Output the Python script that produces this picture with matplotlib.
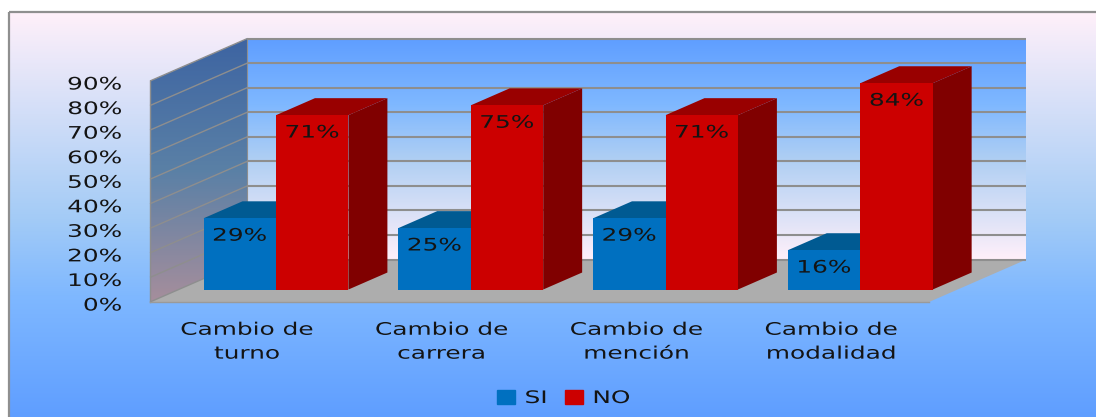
import matplotlib
matplotlib.use("Agg")
import matplotlib.pyplot as plt
import numpy as np
from matplotlib.colors import LinearSegmentedColormap
from matplotlib.patches import Patch, Polygon, Rectangle
from matplotlib.patheffects import AbstractPathEffect
from matplotlib.transforms import Affine2D

categories = ["Cambio de\nturno", "Cambio de\ncarrera", "Cambio de\nmención", "Cambio de\nmodalidad"]
si_values = [29, 25, 29, 16]
no_values = [71, 75, 71, 84]
y_ticks = [0, 10, 20, 30, 40, 50, 60, 70, 80, 90]
series_names = ["SI", "NO"]

# colores
BLUE_FRONT, BLUE_TOP, BLUE_SIDE = "#0070C0", "#005A92", "#004E80"
RED_FRONT, RED_TOP, RED_SIDE = "#CC0000", "#990000", "#800000"
FLOOR = "#ADADAD"
GRID = "#8E8E8E"
TEXT = "#141414"

# proyeccion 3D: cuanto se corre el fondo, en unidades de los ejes
DEPTH_X = 0.5
DEPTH_Y = 17.3
BAR_D0, BAR_D1 = 0.294, 0.694
BAR_W = 0.372
FONT = 12.4
STRETCH = 1.44


class HStretch(AbstractPathEffect):
    """Ensancha el texto en x (el original esta estirado)."""

    def __init__(self, cx=None, s=STRETCH, dy=0):
        super().__init__()
        self.cx = cx
        self.s = s
        self.dy = dy

    def draw_path(self, renderer, gc, tpath, affine, rgbFace=None):
        cx = self.cx if self.cx is not None else affine.get_matrix()[0, 2]
        extra = Affine2D().translate(-cx, 0).scale(self.s, 1).translate(cx, self.dy)
        renderer.draw_path(gc, tpath, affine + extra, rgbFace)


def proj(x, y, d):
    return x + d * DEPTH_X, y + d * DEPTH_Y


def gradient(ax, stops, extent, clip=None):
    cmap = LinearSegmentedColormap.from_list("g", stops)
    im = ax.imshow(np.linspace(0, 1, 256).reshape(-1, 1), cmap=cmap, aspect="auto",
                   extent=extent, origin="upper", interpolation="bilinear", zorder=1)
    if clip is not None:
        im.set_clip_box(ax.figure.bbox)
        im.set_clip_path(clip)
    return im


def draw_box(ax, x0, x1, v, front, top, side):
    d0, d1 = BAR_D0, BAR_D1
    ax.fill(*zip(proj(x1, 0, d0), proj(x1, 0, d1), proj(x1, v, d1), proj(x1, v, d0)),
            color=side, lw=0, clip_on=False, zorder=4)
    ax.fill(*zip(proj(x0, v, d0), proj(x0, v, d1), proj(x1, v, d1), proj(x1, v, d0)),
            color=top, lw=0, clip_on=False, zorder=4)
    ax.fill(*zip(proj(x0, 0, d0), proj(x1, 0, d0), proj(x1, v, d0), proj(x0, v, d0)),
            color=front, lw=0, clip_on=False, zorder=4)


W, H = 1096, 417
fig = plt.figure(figsize=(W / 100, H / 100), dpi=100, facecolor="white")

# fondo del grafico
bg = fig.add_axes([0, 0, 1, 1], zorder=0)
bg.set_xlim(0, W)
bg.set_ylim(H, 0)
bg.axis("off")
gradient(bg, [(0, "#FFF0FA"), (0.5, "#A5CCF6"), (0.7, "#7FB8FF"), (1, "#5F9EFF")], (9, W, H, 12))
bg.set_xlim(0, W)
bg.set_ylim(H, 0)
bg.add_patch(Rectangle((9, 12), W, H, fill=False, ec="#8F8F8F", lw=1.6, zorder=2))

ax = fig.add_axes([150 / W, (H - 302) / H, 779 / W, 221 / H], zorder=1)
ax.patch.set_visible(False)
n = len(categories)
ymax = y_ticks[-1]

# paredes
back = Polygon([proj(0, 0, 1), proj(n, 0, 1), proj(n, ymax, 1), proj(0, ymax, 1)],
               transform=ax.transData, fc="none", ec="none")
left = Polygon([proj(0, 0, 0), proj(0, 0, 1), proj(0, ymax, 1), proj(0, ymax, 0)],
               transform=ax.transData, fc="none", ec="none")
ax.add_patch(back)
ax.add_patch(left)
back_x0, back_y0 = proj(0, 0, 1)
back_x1, back_y1 = proj(n, ymax, 1)
gradient(ax, [(0, "#5F9EFF"), (0.3, "#7FB8FF"), (0.55, "#B0CFF3"), (1, "#FFF0FA")],
         (back_x0, back_x1, back_y0, back_y1), clip=back)
gradient(ax, [(0, "#3D64A2"), (0.5, "#5A80A6"), (1, "#A68E9C")],
         (0, back_x0, 0, back_y1), clip=left)

# piso
ax.fill(*zip(proj(0, 0, 0), proj(n, 0, 0), proj(n, 0, 1), proj(0, 0, 1)),
        color=FLOOR, lw=0, clip_on=False, zorder=2)

# lineas de la grilla
for t in y_ticks:
    xa, ya = proj(0, t, 0)
    xb, yb = proj(0, t, 1)
    xc, yc = proj(n, t, 1)
    ax.plot([xa, xb], [ya, yb], color=GRID, lw=1.0, clip_on=False, zorder=3,
            solid_capstyle="butt")
    ax.plot([xb, xc], [yb, yc], color=GRID, lw=1.5, clip_on=False, zorder=3,
            solid_capstyle="butt")
xa, ya = proj(0, 0, 0)
xb, yb = proj(0, ymax, 0)
xc, yc = proj(0, 0, 1)
xd, yd = proj(0, ymax, 1)
ax.plot([xa, xb], [ya, yb], color=GRID, lw=1.0, clip_on=False, zorder=3)
ax.plot([xc, xd], [yc, yd], color=GRID, lw=0.8, clip_on=False, zorder=3)
ax.plot([0, n], [0, 0], color="#9A9A9A", lw=1.0, clip_on=False, zorder=3)

# barras
for i in range(n):
    c = i + 0.5
    draw_box(ax, c - BAR_W, c, si_values[i], BLUE_FRONT, BLUE_TOP, BLUE_SIDE)
    draw_box(ax, c, c + BAR_W, no_values[i], RED_FRONT, RED_TOP, RED_SIDE)

ax.set_xlim(0, n)
ax.set_ylim(0, ymax)
for s in ax.spines.values():
    s.set_visible(False)
ax.set_xticks([i + 0.5 for i in range(n)])
ax.set_xticklabels(categories, fontsize=FONT, color=TEXT, linespacing=1.42)
ax.set_yticks(y_ticks)
ax.set_yticklabels([f"{t}%" for t in y_ticks], fontsize=FONT, color=TEXT)
ax.tick_params(axis="x", length=0, pad=13.5)
ax.tick_params(axis="y", length=0, pad=20)

fig.canvas.draw()
for tick, lab in zip(ax.get_xticks(), ax.get_xticklabels()):
    lab.set_path_effects([HStretch(ax.transData.transform((tick, 0))[0])])
for lab in ax.get_yticklabels():
    lab.set_path_effects([HStretch(122, dy=-1.5)])

# etiquetas de datos
for i in range(n):
    c = i + 0.5
    for x0, x1, v in ((c - BAR_W, c, si_values[i]), (c, c + BAR_W, no_values[i])):
        xm, ym = proj((x0 + x1) / 2, v, BAR_D0)
        t = ax.annotate(f"{v}%", (xm, ym), xytext=(0, -12.5), textcoords="offset points",
                        ha="center", va="center", fontsize=FONT, color=TEXT,
                        annotation_clip=False, zorder=6)
        t.set_path_effects([HStretch(ax.transData.transform((xm, ym))[0])])

# leyenda
handles = [Patch(color=BLUE_FRONT, label=series_names[0]), Patch(color=RED_FRONT, label=series_names[1])]
leg = ax.legend(handles=handles, loc="center", bbox_to_anchor=(558 / W, 1 - 398 / H),
                bbox_transform=fig.transFigure, ncol=2, frameon=False, fontsize=FONT,
                handlelength=1.05, handleheight=0.8, handletextpad=0.55, columnspacing=1.4,
                borderpad=0, borderaxespad=0)
for t in leg.get_texts():
    t.set_color(TEXT)
    t.set_path_effects([HStretch()])

fig.savefig("out.png", dpi=100)
